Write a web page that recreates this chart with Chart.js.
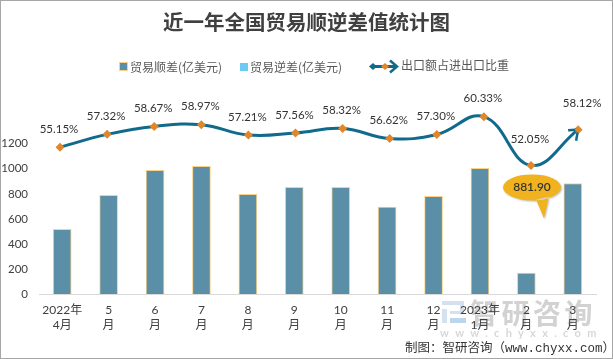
<!DOCTYPE html>
<html><head><meta charset="utf-8">
<style>html,body{margin:0;padding:0;background:#fff}#w{position:relative;width:613px;height:359px;overflow:hidden}
#w:after{content:"";position:absolute;left:0;top:0;width:611px;height:357px;border:1px solid #a6a6a6;pointer-events:none}
canvas{display:block}</style>
<script src="https://cdn.jsdelivr.net/npm/chart.js@4"></script></head>
<body><div id="w"><canvas id="c" width="613" height="359"></canvas></div>
<script>
const titleText = '近一年全国贸易顺逆差值统计图';
const categories = [['2022年','4月'],['5','月'],['6','月'],['7','月'],['8','月'],['9','月'],['10','月'],['11','月'],['12','月'],['2023年','1月'],['2','月'],['3','月']];
const surplus = [517,788,987,1019,796,852,852,693,780,1003,167,881.9];
const deficit = [0,0,0,0,0,0,0,0,0,0,0,0];
const exportShare = [55.15,57.32,58.67,58.97,57.21,57.56,58.32,56.62,57.30,60.33,52.05,58.12];
const legendNames = ['贸易顺差(亿美元)','贸易逆差(亿美元)','出口额占进出口比重'];
const calloutIndex = 10, calloutValueIndex = 11;
const FONT = 'Lato,"Noto Sans CJK SC",sans-serif', CJK = '"Noto Sans CJK SC",sans-serif';
const TXT = '#404040', LINE = '#0f6a8c', MARK = '#e0872c', BAR = '#5b8fa8', EDGE = '#f8d28a';

const decor = {
  id:'decor',
  beforeDraw(ch){
    const c = ch.ctx; c.save();
    // watermark
    c.fillStyle='#d5e1ee';
    c.fillRect(442,301,22,4); c.fillRect(460,301,4,12); c.fillRect(450,311,14,3);
    c.fillRect(442,309,5,14); c.fillStyle='#bcd6ec'; c.fillRect(450,318,16,5);
    c.fillStyle='#d2d2d2'; c.font='bold 28px '+CJK; c.textBaseline='middle'; c.textAlign='left';
    c.letterSpacing='3.5px'; c.fillText('智研咨询',470,313);
    c.fillStyle='#d8d8d8'; c.font='bold 11px '+FONT; c.letterSpacing='6.3px'; c.fillText('www.chyxx.com',440,333);
    c.letterSpacing='0px';
    c.restore();
  },
  afterDraw(ch){
    const c = ch.ctx, x2 = ch.scales.x2, y2 = ch.scales.y2; c.save();
    // footer
    c.fillStyle='#333'; c.font='12.5px "Liberation Mono",'+CJK; c.textAlign='left'; c.textBaseline='middle';
    c.fillText('制图：智研咨询（www.chyxx.com）',405,349);
    // legend
    c.font='12px '+CJK;
    c.fillStyle=BAR; c.strokeStyle=EDGE; c.fillRect(120,63,7,7); c.strokeRect(119.5,62.5,8,8);
    c.fillStyle='#6ccbf5'; c.fillRect(240,63,8,8);
    c.fillStyle='#595959';
    c.fillText(legendNames[0],130,67); c.fillText(legendNames[1],250,67); c.fillText(legendNames[2],401,65.5);
    c.strokeStyle=LINE; c.lineWidth=3; c.beginPath(); c.moveTo(372,66.5); c.lineTo(396,66.5); c.stroke();
    c.lineWidth=2.5; c.beginPath(); c.moveTo(390,60.5); c.lineTo(397,66.5); c.lineTo(390,72.5); c.stroke();
    c.fillStyle=LINE; c.beginPath(); c.moveTo(369,66.5); c.lineTo(373,63); c.lineTo(377,66.5); c.lineTo(373,70); c.fill();
    c.fillStyle=MARK; c.beginPath(); c.moveTo(381,66.5); c.lineTo(385,63); c.lineTo(389,66.5); c.lineTo(385,70); c.fill();
    // percent labels
    c.font='11.5px '+FONT; c.fillStyle='#333'; c.textAlign='center';
    exportShare.forEach((v,i)=>{
      const last = i===exportShare.length-1, low = i===calloutIndex;
      c.fillText(v.toFixed(2)+'%', x2.getPixelForValue(i)+(last?4:-1), y2.getPixelForValue(v)-(last||low?26.5:18));
    });
    // arrow at the line end
    const n = exportShare.length-1, ex = x2.getPixelForValue(n), ey = y2.getPixelForValue(exportShare[n]);
    c.strokeStyle=LINE; c.lineWidth=2.5; c.lineJoin='miter';
    c.beginPath(); c.moveTo(ex-10,ey+0.5); c.lineTo(ex,ey); c.lineTo(ex-2,ey+11); c.stroke();
    c.fillStyle=MARK; c.beginPath(); c.moveTo(ex,ey-3.5); c.lineTo(ex+3.5,ey); c.lineTo(ex,ey+3.5); c.lineTo(ex-3.5,ey); c.fill();
    // callout
    const ax = x2.getPixelForValue(calloutIndex)+1, ay = y2.getPixelForValue(exportShare[calloutIndex])+22;
    c.shadowColor='rgba(0,0,0,.25)'; c.shadowBlur=2; c.shadowOffsetX=1; c.shadowOffsetY=1;
    c.fillStyle='#f0b31f'; c.beginPath(); c.ellipse(ax,ay,29,13,0,0,Math.PI*2); c.moveTo(ax+4,ay+12); c.lineTo(ax+12,ay+31); c.lineTo(ax+17,ay+9); c.fill();
    c.shadowColor='transparent'; c.shadowBlur=0; c.shadowOffsetX=0; c.shadowOffsetY=0;
    c.fillStyle='#333'; c.font='600 12px '+FONT; c.textAlign='center';
    c.fillText(surplus[calloutValueIndex].toFixed(2),ax,ay);
    c.restore();
  }
};

new Chart(document.getElementById('c'),{
  data:{labels:categories,datasets:[
    {type:'line',label:legendNames[2],data:exportShare.map((v,i)=>({x:i,y:v})),xAxisID:'x2',yAxisID:'y2',order:0,
     borderColor:LINE,borderWidth:3,tension:0.42,pointStyle:'rectRot',pointRadius:4.5,pointBackgroundColor:MARK,pointBorderColor:MARK,pointBorderWidth:0,clip:false},
    {type:'bar',label:legendNames[0],data:surplus,xAxisID:'x',yAxisID:'y',order:2,grouped:false,backgroundColor:BAR,borderColor:EDGE,borderWidth:1,barThickness:18},
    {type:'bar',label:legendNames[1],data:deficit,xAxisID:'x',yAxisID:'y',order:3,grouped:false,backgroundColor:'#6ccbf5',borderWidth:0,barThickness:18}
  ]},
  options:{
    responsive:false,animation:false,events:[],
    layout:{padding:0},
    plugins:{
      legend:{display:false},tooltip:{enabled:false},
      title:{display:true,text:titleText,color:'#404040',font:{family:CJK,size:20.5,weight:'bold'},padding:{top:10,bottom:59}}
    },
    scales:{
      x:{type:'category',offset:true,grid:{display:false,drawTicks:false},border:{color:'#d9d9d9',width:1},
         ticks:{color:TXT,font:{family:FONT,size:12,lineHeight:1.25},maxRotation:0,autoSkip:false,padding:9},
         afterFit(s){s.height=65}},
      y:{type:'linear',min:0,max:1600,grid:{display:false,drawTicks:false},border:{display:false},
         ticks:{stepSize:200,color:TXT,font:{family:FONT,size:11.5},padding:11,callback:v=>v>1200?'':v},
         afterFit(s){s.width=39}},
      x2:{type:'linear',display:false,min:-0.446,max:11.38},
      y2:{type:'linear',position:'right',min:30.19,max:64.25,grid:{display:false,drawTicks:false},border:{display:false},
          ticks:{display:false},afterFit(s){s.width=17}}
    }
  },
  plugins:[decor]
});
</script></body></html>
